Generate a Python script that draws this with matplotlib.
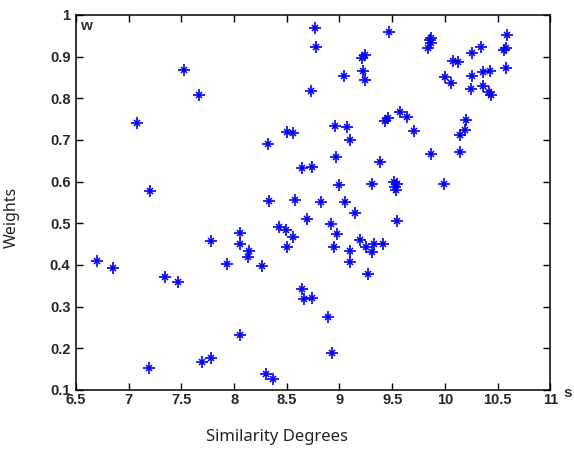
import matplotlib.pyplot as plt

# similarity degree (s) vs weight (w)
sim = [6.70, 6.85, 7.08, 7.20, 7.19, 7.34, 7.47, 7.52, 7.67, 7.70,
       7.78, 7.78, 7.93, 8.06, 8.06, 8.14, 8.13, 8.06, 8.26, 8.30,
       8.37, 8.32, 8.33, 8.43, 8.49, 8.50, 8.56, 8.50, 8.56, 8.58,
       8.64, 8.64, 8.66, 8.69, 8.73, 8.74, 8.74, 8.77, 8.78, 8.82,
       8.89, 8.92, 8.93, 8.95, 8.96, 8.97, 8.98, 9.00, 9.04, 9.05,
       9.07, 9.10, 9.10, 9.10, 9.15, 9.19, 9.21, 9.24, 9.22, 9.24,
       9.25, 9.27, 9.31, 9.31, 9.33, 9.38, 9.41, 9.43, 9.46, 9.47,
       9.52, 9.55, 9.53, 9.54, 9.55, 9.57, 9.64, 9.71, 9.84, 9.86,
       9.87, 9.87, 9.87, 9.99, 10.00, 10.06, 10.08, 10.12, 10.14, 10.14,
       10.19, 10.20, 10.25, 10.26, 10.26, 10.34, 10.36, 10.36, 10.42, 10.43,
       10.44, 10.56, 10.58, 10.59, 10.58]
wts = [0.410, 0.392, 0.740, 0.578, 0.152, 0.370, 0.358, 0.868, 0.808, 0.166,
       0.176, 0.458, 0.402, 0.476, 0.450, 0.434, 0.418, 0.232, 0.398, 0.138,
       0.126, 0.690, 0.554, 0.490, 0.484, 0.442, 0.466, 0.718, 0.716, 0.556,
       0.632, 0.342, 0.318, 0.510, 0.818, 0.634, 0.321, 0.968, 0.922, 0.550,
       0.276, 0.498, 0.189, 0.442, 0.734, 0.660, 0.474, 0.592, 0.853, 0.550,
       0.732, 0.700, 0.434, 0.408, 0.524, 0.460, 0.897, 0.905, 0.866, 0.844,
       0.444, 0.379, 0.594, 0.432, 0.450, 0.648, 0.450, 0.745, 0.753, 0.960,
       0.600, 0.594, 0.586, 0.579, 0.505, 0.768, 0.755, 0.722, 0.920, 0.941,
       0.945, 0.932, 0.666, 0.595, 0.850, 0.836, 0.890, 0.887, 0.670, 0.712,
       0.724, 0.747, 0.822, 0.854, 0.908, 0.922, 0.863, 0.830, 0.814, 0.865,
       0.809, 0.915, 0.920, 0.952, 0.873]

xticks = [6.5, 7, 7.5, 8, 8.5, 9, 9.5, 10, 10.5, 11]
xlabels = ["6.5", "7", "7.5", "8", "8.5", "9", "9.5", "10", "10.5", "11"]
yticks = [0.1, 0.2, 0.3, 0.4, 0.5, 0.6, 0.7, 0.8, 0.9, 1.0]
ylabels = ["0.1", "0.2", "0.3", "0.4", "0.5", "0.6", "0.7", "0.8", "0.9", "1"]

fig = plt.figure(figsize=(5.74, 4.54), dpi=100)
ax = fig.add_axes([0.1324, 0.141, 0.8263, 0.826])

# matlab style asterisk: a plus with a smaller cross on top
ax.plot(sim, wts, ls="none", marker="+", ms=8, mew=1.2, color="#0000f0")
ax.plot(sim, wts, ls="none", marker="x", ms=5, mew=1.1, color="#0000f0")

ax.set_xlim(6.5, 11)
ax.set_ylim(0.1, 1)
ax.set_xticks(xticks)
ax.set_xticklabels(xlabels)
ax.set_yticks(yticks)
ax.set_yticklabels(ylabels)
ax.tick_params(direction="in", length=5, width=1, top=True, right=True,
               labelsize=10.5, labelcolor="#262626")
ax.tick_params(axis="x", pad=2)
ax.tick_params(axis="y", pad=4)
for lab in ax.get_xticklabels() + ax.get_yticklabels():
    lab.set_fontfamily("Liberation Sans")
    lab.set_fontweight("bold")
for sp in ax.spines.values():
    sp.set_linewidth(1.1)

ax.text(0.008, 0.988, "w", transform=ax.transAxes, ha="left", va="top",
        fontsize=11, fontweight="bold", family="Liberation Sans", color="#333333")
fig.text(568 / 574, 1 - 393 / 454, "s", ha="center", va="center",
         fontsize=11, fontweight="bold", family="Liberation Sans", color="#333333")

fig.text(277 / 574, 1 - 437 / 454, "Similarity Degrees", ha="center", va="center",
         fontsize=12, family="Noto Sans", color="#222222")
fig.text(12 / 574, 1 - 217 / 454, "Weights", ha="center", va="center",
         rotation=90, fontsize=11.5, family="Noto Sans", color="#222222")

fig.savefig("out.png", dpi=100)
